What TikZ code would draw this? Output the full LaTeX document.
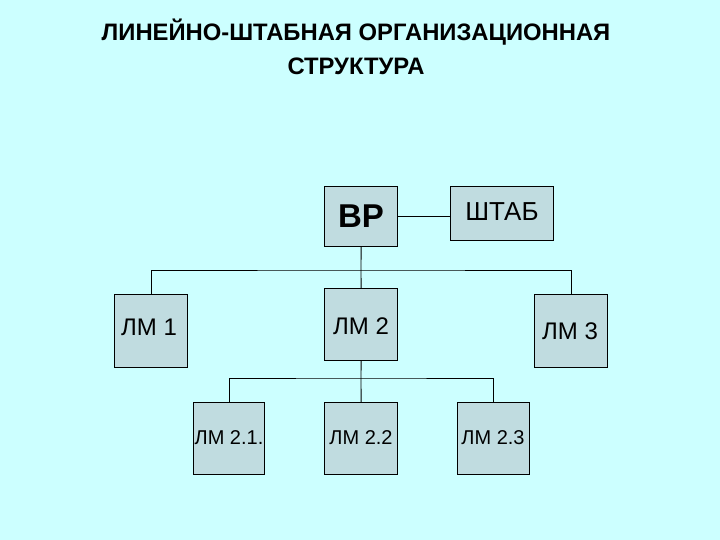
\documentclass[tikz,border=0pt]{standalone}
\usepackage{fontspec}
\setmainfont{Liberation Sans}
\definecolor{bgc}{HTML}{CCFFFF}
\definecolor{boxc}{HTML}{C0DCE0}
\begin{document}
\begin{tikzpicture}[x=1pt,y=-1pt,
  box/.style={draw=black,line width=1.2pt,fill=boxc,inner sep=0pt,anchor=north west},
  conn/.style={draw=black,line width=0.9pt},
  ttl/.style={font=\fontsize{23.8}{24}\selectfont\bfseries,inner sep=0pt},
  big/.style={font=\fontsize{24}{24}\selectfont,inner sep=0pt},
  small/.style={font=\fontsize{20}{20}\selectfont,inner sep=0pt}]
\fill[bgc] (0,0) rectangle (720,540);
\useasboundingbox (0,0) rectangle (720,540);
% title
\node[ttl] (title1) at (356,32) {ЛИНЕЙНО-ШТАБНАЯ ОРГАНИЗАЦИОННАЯ};
\node[ttl] (title2) at (356,66) {СТРУКТУРА};
% boxes
\node[box,minimum width=73pt,minimum height=60pt] (vr) at (324,186) {};
\node[font=\fontsize{33}{33}\selectfont\bfseries,inner sep=0pt] at (361,216) {ВР};
\node[box,minimum width=103pt,minimum height=54pt] (shtab) at (450,186) {};
\node[font=\fontsize{26}{26}\selectfont,inner sep=0pt] at (502,212) {ШТАБ};
\node[box,minimum width=73pt,minimum height=73pt] (lm1) at (114,294) {};
\node[big] at (149,327) {ЛМ 1};
\node[box,minimum width=73pt,minimum height=72pt] (lm2) at (324,288) {};
\node[big] at (361,326) {ЛМ 2};
\node[box,minimum width=73pt,minimum height=73pt] (lm3) at (534,294) {};
\node[big] at (570,331) {ЛМ 3};
\node[box,minimum width=71pt,minimum height=72pt] (lm21) at (193,402) {};
\node[small] at (229,438) {ЛМ 2.1.};
\node[box,minimum width=73pt,minimum height=72pt] (lm22) at (324,402) {};
\node[small] at (361,438) {ЛМ 2.2};
\node[box,minimum width=72pt,minimum height=72pt] (lm23) at (457,402) {};
\node[small] at (493,438) {ЛМ 2.3};
% connectors
\coordinate (bus1) at (361,270);
\coordinate (bus2) at (361,378);
\draw[conn] (vr.east) -- (vr.east -| shtab.west);
\draw[conn] (vr.south) -- (bus1);
\draw[conn] (lm1.north) |- (bus1) -| (lm3.north);
\draw[conn] (bus1) -- (lm2.north);
\draw[conn] (lm2.south) -- (bus2);
\draw[conn] (lm21.north) |- (bus2) -| (lm23.north);
\draw[conn] (bus2) -- (lm22.north);
\end{tikzpicture}
\end{document}
